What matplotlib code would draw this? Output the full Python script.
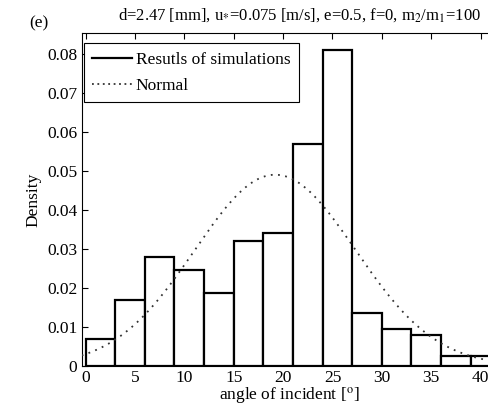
import numpy as np
import matplotlib
matplotlib.use('Agg')
import matplotlib.pyplot as plt

# histogram of incident angles (bin width 3 deg)
bin_edges = [0, 3, 6, 9, 12, 15, 18, 21, 24, 27, 30, 33, 36, 39, 42]
density = [0.0069, 0.0169, 0.0280, 0.0245, 0.0188, 0.0321, 0.0341,
           0.0570, 0.0810, 0.0136, 0.0094, 0.0080, 0.0026, 0.0026]

# fitted normal
mu = 19.2
sigma = 8.14

plt.rcParams['font.family'] = ['Liberation Serif', 'DejaVu Serif']
plt.rcParams['mathtext.fontset'] = 'stix'
plt.rcParams['font.size'] = 12.5

fig = plt.figure(figsize=(4.89, 4.05), dpi=100)
ax = fig.add_axes([0.167, 0.0963, 0.848, 0.822])

lefts = np.array(bin_edges[:-1])
widths = np.diff(bin_edges)
ax.bar(lefts, density, width=widths, align='edge', facecolor='white',
       edgecolor='black', linewidth=1.6, zorder=2)

xs = np.linspace(-0.4, 41.6, 300)
pdf = np.exp(-(xs - mu) ** 2 / (2 * sigma ** 2)) / (sigma * np.sqrt(2 * np.pi))
ax.plot(xs, pdf, color='#333333', linestyle=(0, (1, 3)), linewidth=1.3, zorder=3)

ax.plot([], [], color='black', linewidth=1.6, label='Resutls of simulations')
ax.plot([], [], color='#333333', linestyle=(0, (1, 2)), linewidth=1.3, label='Normal')

ax.set_xlim(-0.4, 41.6)
ax.set_ylim(0, 0.0853)
ax.set_xticks(range(0, 45, 5))
ax.set_yticks([0, 0.01, 0.02, 0.03, 0.04, 0.05, 0.06, 0.07, 0.08])
ax.set_yticklabels(['0', '0.01', '0.02', '0.03', '0.04', '0.05', '0.06', '0.07', '0.08'])
ax.tick_params(direction='in', top=True, right=False, length=4, width=0.8, pad=3)
for s in ax.spines.values():
    s.set_linewidth(0.8)

ax.set_xlabel('angle of incident [$^{\\mathrm{o}}$]', labelpad=-1)
ax.set_ylabel('Density', labelpad=4)
ax.set_title('d=2.47 [mm], u$_{\\mathrm{*}}$=0.075 [m/s], e=0.5, f=0, m$_2$/m$_1$=100',
             fontsize=12, x=0.525, pad=10)
fig.text(0.06, 0.943, '(e)', fontsize=12.5, va='center')

leg = ax.legend(loc='upper left', bbox_to_anchor=(0.005, 0.97), fancybox=False,
                edgecolor='black', framealpha=1, handlelength=2.3,
                borderaxespad=0.0, handletextpad=0.2, labelspacing=0.55,
                borderpad=0.5)
leg.get_frame().set_linewidth(0.8)

fig.savefig('out.png', dpi=100)
